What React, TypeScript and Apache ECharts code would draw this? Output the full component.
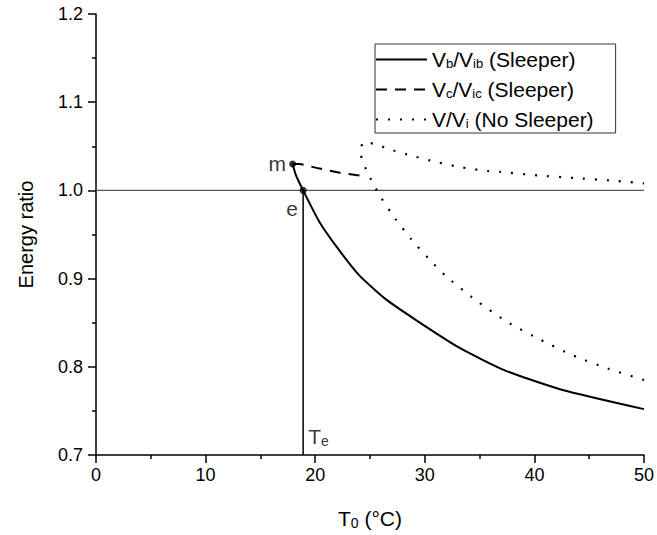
import React, { useEffect, useRef } from "react";
import * as echarts from "echarts";

// Vb/Vib (Sleeper) – solid
const solidT = [17.94, 18.25, 18.9, 20.4, 22.2, 24.0, 26.4, 29.2, 33.1, 37.3, 42.5, 50];
const solidR = [1.03, 1.017, 1.0, 0.964, 0.932, 0.904, 0.877, 0.853, 0.822, 0.796, 0.774, 0.752];

// Vc/Vic (Sleeper) – dashed
const dashT = [17.94, 18.6, 20.3, 22.25, 24.6];
const dashR = [1.03, 1.03, 1.025, 1.02, 1.016];

// V/Vi (No Sleeper) – dotted (lower branch from 50 back to cusp, then upper branch)
const dotT = [50, 46.7, 43.5, 40.5, 37.5, 34.6, 31.9, 30.4, 28.8, 27.3, 26.0, 25.45, 24.9, 24.4, 24.1, 24.45, 25.6, 26.7, 28.9, 31.1, 33.4, 35.7, 36.9, 40.3, 43.7, 47.2, 50];
const dotR = [0.785, 0.798, 0.813, 0.831, 0.851, 0.876, 0.903, 0.922, 0.944, 0.968, 0.992, 1.004, 1.017, 1.031, 1.044, 1.055, 1.052, 1.047, 1.039, 1.032, 1.026, 1.022, 1.021, 1.017, 1.014, 1.011, 1.008];

// reference lines
const refLineT = [0, 50];
const refLineR = [1.0, 1.0];
const teT = [18.9, 18.9];
const teR = [0.7, 1.0];

// marked points
const pointNames = ["m", "e", "Te"];
const pointT = [17.94, 18.9, 18.9];
const pointR = [1.03, 1.0, 0.7];

const seriesNames = ["Vb/Vib (Sleeper)", "Vc/Vic (Sleeper)", "V/Vi (No Sleeper)"];
const legendRich = [
  "{n|V}{s|b}{n|/V}{s|ib}{n| (Sleeper)}",
  "{n|V}{s|c}{n|/V}{s|ic}{n| (Sleeper)}",
  "{n|V/V}{s|i}{n| (No Sleeper)}",
];

const xMin = 0, xMax = 50, xInterval = 10;
const yMin = 0.7, yMax = 1.2, yInterval = 0.1;

const zip = (a: number[], b: number[]) => a.map((v, i) => [v, b[i]]);

const FONT = "Liberation Sans, Arial, sans-serif";

export default function App() {
  const ref = useRef<HTMLDivElement>(null);
  useEffect(() => {
    if (!ref.current) return;
    const chart = echarts.init(ref.current, null, { renderer: "svg" });
    const subRich = {
      n: { fontSize: 21, fontFamily: FONT, color: "#000" },
      s: { fontSize: 13, fontFamily: FONT, color: "#000", padding: [8, 0, 0, 0] },
    };
    const labRich = {
      n: { fontSize: 21, fontFamily: FONT, color: "#000" },
      s: { fontSize: 14, fontFamily: FONT, color: "#000", padding: [9, 0, 0, 0] },
    };
    chart.setOption({
      animation: false,
      backgroundColor: "#fff",
      textStyle: { fontFamily: FONT },
      grid: { left: 96, right: 11, top: 14, bottom: 78, containLabel: false },
      legend: {
        data: seriesNames,
        orient: "vertical",
        left: 375,
        top: 44,
        padding: [5, 22, 3, 0],
        itemWidth: 51,
        itemHeight: 14,
        itemGap: 9,
        borderColor: "#333",
        borderWidth: 1,
        itemStyle: { opacity: 0 },
        formatter: (name: string) => legendRich[seriesNames.indexOf(name)],
        textStyle: { fontSize: 21, fontFamily: FONT, color: "#000", rich: subRich },
      },
      xAxis: {
        type: "value",
        min: xMin,
        max: xMax,
        interval: xInterval,
        name: "{n|T}{s|0}{n| (°C)}",
        nameLocation: "middle",
        nameGap: 52,
        nameTextStyle: { rich: labRich },
        axisLine: { show: true, onZero: false, lineStyle: { color: "#000", width: 1.5 } },
        axisTick: { show: true, inside: false, length: 8, lineStyle: { color: "#000", width: 1.5 } },
        minorTick: { show: true, splitNumber: 2, length: 4, lineStyle: { color: "#000", width: 1.5 } },
        axisLabel: { fontSize: 18, color: "#000", margin: 11, fontFamily: FONT },
        splitLine: { show: false },
      },
      yAxis: {
        type: "value",
        min: yMin,
        max: yMax,
        interval: yInterval,
        name: "Energy ratio",
        nameLocation: "middle",
        nameGap: 60,
        nameTextStyle: { fontSize: 20, fontFamily: FONT, color: "#000" },
        axisLine: { show: true, onZero: false, lineStyle: { color: "#000", width: 1.5 } },
        axisTick: { show: true, inside: false, length: 8, lineStyle: { color: "#000", width: 1.5 } },
        minorTick: { show: true, splitNumber: 2, length: 4, lineStyle: { color: "#000", width: 1.5 } },
        axisLabel: {
          fontSize: 18,
          color: "#000",
          margin: 13,
          fontFamily: FONT,
          formatter: (v: number) => v.toFixed(1),
        },
        splitLine: { show: false },
      },
      series: [
        {
          name: seriesNames[0],
          type: "line",
          data: zip(solidT, solidR),
          symbol: "none",
          smooth: 0.2,
          lineStyle: { color: "#000", width: 2, type: "solid" },
          itemStyle: { color: "#000" },
          z: 3,
        },
        {
          name: seriesNames[1],
          type: "line",
          data: zip(dashT, dashR),
          symbol: "none",
          lineStyle: { color: "#000", width: 2, type: [11, 8] },
          itemStyle: { color: "#000" },
          z: 3,
        },
        {
          name: seriesNames[2],
          type: "line",
          data: zip(dotT, dotR),
          symbol: "none",
          smooth: 0.2,
          lineStyle: { color: "#000", width: 2.2, type: [2, 10] },
          itemStyle: { color: "#000" },
          z: 3,
        },
        {
          name: "ref",
          type: "line",
          data: zip(refLineT, refLineR),
          symbol: "none",
          lineStyle: { color: "#555", width: 1.2 },
          silent: true,
          z: 2,
        },
        {
          name: "te",
          type: "line",
          data: zip(teT, teR),
          symbol: "none",
          lineStyle: { color: "#000", width: 1.5 },
          silent: true,
          z: 2,
        },
        {
          name: "points",
          type: "scatter",
          z: 5,
          data: pointNames.map((nm, i) => {
            const base: any = { name: nm, value: [pointT[i], pointR[i]] };
            if (nm === "m") {
              base.symbolSize = 7;
              base.label = { show: true, position: "left", distance: 3, formatter: "m", fontSize: 21, color: "#000", fontFamily: FONT };
            } else if (nm === "e") {
              base.symbolSize = 7;
              base.label = { show: true, position: "bottom", distance: 4, offset: [-11, 0], formatter: "e", fontSize: 21, color: "#000", fontFamily: FONT };
            } else {
              base.symbolSize = 0;
              base.label = {
                show: true,
                position: "right",
                distance: 5,
                offset: [0, -19],
                formatter: "{n|T}{s|e}",
                rich: labRich,
              };
            }
            return base;
          }),
          itemStyle: { color: "#000" },
        },
      ],
    });
    return () => chart.dispose();
  }, []);
  return <div ref={ref} style={{ width: 657, height: 535, position: "absolute", left: 0, top: 0 }} />;
}
